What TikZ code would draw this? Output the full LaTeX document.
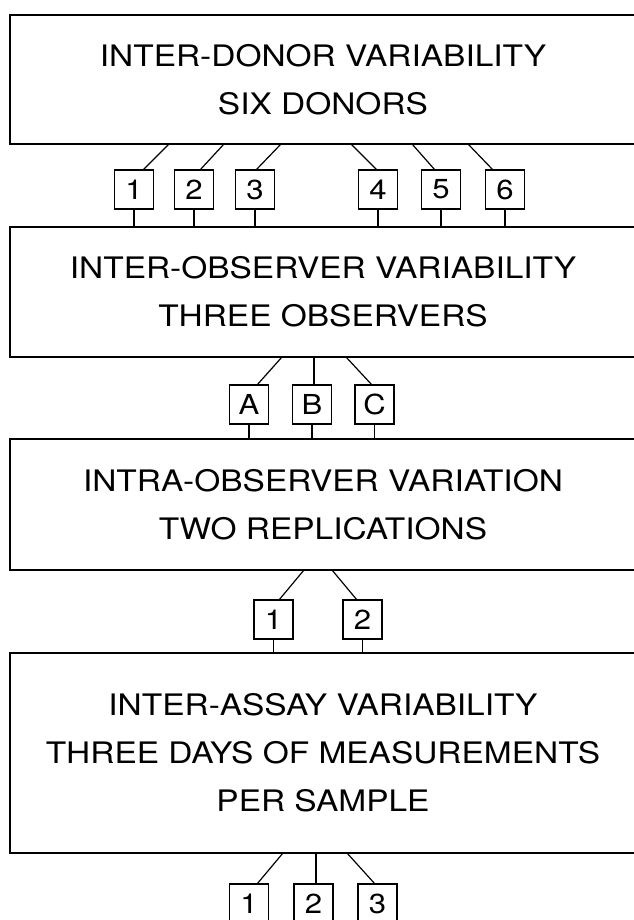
\documentclass[tikz,border=0pt]{standalone}
\usepackage{fontspec}
\setmainfont{TeX Gyre Heros}[FakeStretch=1.13]
\begin{document}
\begin{tikzpicture}[x=1pt,y=1pt,
    level/.style={draw,line width=1.7pt,rectangle,anchor=north west,outer sep=0pt,
      minimum width=626pt,inner sep=0pt,align=center,font=\fontsize{29.6}{48}\selectfont},
    tag/.style={draw,line width=1.2pt,rectangle,outer sep=0pt,minimum width=39pt,
      minimum height=39pt,inner sep=0pt,font=\fontsize{27.5}{27.5}\selectfont},
    link/.style={line width=1.2pt}]
  \useasboundingbox (0,0) rectangle (633,-920);

  \node[level,minimum height=129pt] (donor) at (10,-15) {INTER-DONOR VARIABILITY\\SIX DONORS};
  \node[level,minimum height=130pt] (observer) at (10,-227) {INTER-OBSERVER VARIABILITY\\THREE OBSERVERS};
  \node[level,minimum height=131pt] (replica) at (10,-439) {INTRA-OBSERVER VARIATION\\TWO REPLICATIONS};
  \node[level,minimum height=200pt] (assay) at (10,-653) {INTER-ASSAY VARIABILITY\\THREE DAYS OF MEASUREMENTS\\PER SAMPLE};

  \node[tag] (d1) at (134,-189.5) {1};
  \node[tag] (d2) at (194,-189.5) {2};
  \node[tag] (d3) at (255,-189.5) {3};
  \node[tag] (d4) at (378,-189.5) {4};
  \node[tag] (d5) at (441,-189.5) {5};
  \node[tag] (d6) at (505,-189.5) {6};
  \draw[link] ([xshift=159pt]donor.south west) -- ([xshift=9pt]d1.north);
  \draw[link] ([xshift=214pt]donor.south west) -- ([xshift=6pt]d2.north);
  \draw[link] ([xshift=271pt]donor.south west) -- ([xshift=1pt]d3.north);
  \draw[link] ([xshift=341pt]donor.south west) -- ([xshift=-1pt]d4.north);
  \draw[link] ([xshift=402pt]donor.south west) -- ([xshift=-6pt]d5.north);
  \draw[link] ([xshift=458pt]donor.south west) -- ([xshift=-12pt]d6.north);
  \draw[link] (d1.south) -- (d1.south |- observer.north);
  \draw[link] (d2.south) -- (d2.south |- observer.north);
  \draw[link] (d3.south) -- (d3.south |- observer.north);
  \draw[link] (d4.south) -- (d4.south |- observer.north);
  \draw[link] (d5.south) -- (d5.south |- observer.north);
  \draw[link] (d6.south) -- (d6.south |- observer.north);

  \node[tag] (oa) at (249,-404.5) {A};
  \node[tag] (ob) at (312,-404.5) {B};
  \node[tag] (oc) at (374.5,-404.5) {C};
  \draw[link] ([xshift=272pt]observer.south west) -- ([xshift=8pt]oa.north);
  \draw[link] ([xshift=304pt]observer.south west) -- ([xshift=2pt]ob.north);
  \draw[link] ([xshift=336pt]observer.south west) -- ([xshift=-2.5pt]oc.north);
  \draw[link] (oa.south) -- (oa.south |- replica.north);
  \draw[link] (ob.south) -- (ob.south |- replica.north);
  \draw[link] (oc.south) -- (oc.south |- replica.north);

  \node[tag] (r1) at (273.5,-619.5) {1};
  \node[tag] (r2) at (362.5,-619.5) {2};
  \draw[link] ([xshift=294pt]replica.south west) -- ([xshift=5.5pt]r1.north);
  \draw[link] ([xshift=322pt]replica.south west) -- ([xshift=-5.5pt]r2.north);
  \draw[link] (r1.south) -- (r1.south |- assay.north);
  \draw[link] (r2.south) -- (r2.south |- assay.north);

  \node[tag] (a1) at (249,-903.5) {1};
  \node[tag] (a2) at (313.5,-903.5) {2};
  \node[tag] (a3) at (377.5,-903.5) {3};
  \draw[link] ([xshift=273pt]assay.south west) -- ([xshift=8pt]a1.north);
  \draw[link] ([xshift=306pt]assay.south west) -- ([xshift=2.5pt]a2.north);
  \draw[link] ([xshift=337pt]assay.south west) -- ([xshift=-2.5pt]a3.north);
\end{tikzpicture}
\end{document}
